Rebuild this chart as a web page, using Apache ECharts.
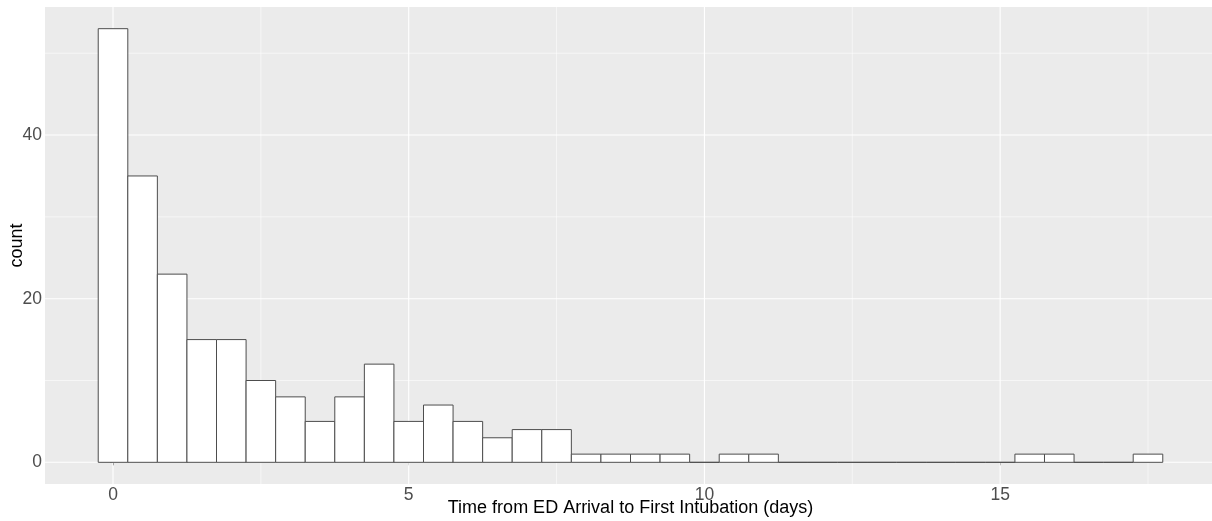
<!DOCTYPE html>
<html>
<head>
<meta charset="utf-8">
<script src="https://cdn.jsdelivr.net/npm/echarts@6/dist/echarts.min.js"></script>
<style>
html,body{margin:0;padding:0;background:#fff;}
#chart{width:1212px;height:521px;}
</style>
</head>
<body>
<div id="chart"></div>
<script>
// Histogram data (bin centers in days, counts), bin width 0.5
const binWidth = 0.5;
const binCenters = [0,0.5,1,1.5,2,2.5,3,3.5,4,4.5,5,5.5,6,6.5,7,7.5,8,8.5,9,9.5,10,10.5,11,11.5,12,12.5,13,13.5,14,14.5,15,15.5,16,16.5,17,17.5];
const counts     = [53,35,23,15,15,10,8,5,8,12,5,7,5,3,4,4,1,1,1,1,0,1,1,0,0,0,0,0,0,0,0,1,1,0,0,1];
const xTicks = [0,5,10,15];
const xMinor = [2.5,7.5,12.5,17.5];
const yTicks = [0,20,40];
const yMinor = [10,30,50];
const xTitle = 'Time from ED Arrival to First Intubation (days)';
const yTitle = 'count';

const FONT = 'Liberation Sans, Arial, sans-serif';
const chart = echarts.init(document.getElementById('chart'), null, {renderer:'canvas'});

function vLines(width){
  return function(params, api){
    const cs = params.coordSys;
    const x = api.coord([api.value(0), 0])[0];
    return {type:'line', shape:{x1:x,y1:cs.y,x2:x,y2:cs.y+cs.height},
      style:{stroke:'#ffffff', lineWidth:width}, silent:true};
  };
}
function hLines(width){
  return function(params, api){
    const cs = params.coordSys;
    const y = api.coord([0, api.value(1)])[1];
    return {type:'line', shape:{x1:cs.x,y1:y,x2:cs.x+cs.width,y2:y},
      style:{stroke:'#ffffff', lineWidth:width}, silent:true};
  };
}

const barData = binCenters.map((c,i)=>[c, counts[i]]);

chart.setOption({
  animation:false,
  backgroundColor:'#ffffff',
  grid:{left:45, top:7, width:1171, height:477, show:true, backgroundColor:'#EBEBEB', borderWidth:0,
        containLabel:false, outerBoundsMode:'none'},
  xAxis:{
    type:'value', min:-1.15, max:18.65,
    axisLine:{show:false},
    splitLine:{show:false},
    axisTick:{show:true, customValues:xTicks, length:3, lineStyle:{color:'#333333', width:1}},
    axisLabel:{customValues:xTicks, color:'#4D4D4D', fontSize:17.5, fontFamily:FONT, margin:2},
    name:xTitle, nameLocation:'middle', nameGap:15, nameMoveOverlap:false,
    nameTextStyle:{color:'#000000', fontSize:18, fontFamily:FONT}
  },
  yAxis:{
    type:'value', min:-2.65, max:55.65,
    axisLine:{show:false},
    splitLine:{show:false},
    axisTick:{show:true, customValues:yTicks, length:3, lineStyle:{color:'#333333', width:1}},
    axisLabel:{customValues:yTicks, color:'#4D4D4D', fontSize:17.5, fontFamily:FONT, margin:3},
    name:yTitle, nameLocation:'middle', nameGap:19, nameRotate:90, nameMoveOverlap:false,
    nameTextStyle:{color:'#000000', fontSize:18, fontFamily:FONT}
  },
  series:[
    {type:'custom', renderItem:vLines(0.55), data:xMinor.map(v=>[v,0]), silent:true, z:1},
    {type:'custom', renderItem:hLines(0.55), data:yMinor.map(v=>[0,v]), silent:true, z:1},
    {type:'custom', renderItem:vLines(1.1), data:xTicks.map(v=>[v,0]), silent:true, z:1},
    {type:'custom', renderItem:hLines(1.1), data:yTicks.map(v=>[0,v]), silent:true, z:1},
    {
      type:'custom', z:2,
      data:barData,
      renderItem:function(params, api){
        const c = api.value(0), n = api.value(1);
        const p0 = api.coord([c - binWidth/2, 0]);
        const p1 = api.coord([c + binWidth/2, n]);
        return {type:'rect',
          shape:{x:p0[0], y:p1[1], width:p1[0]-p0[0], height:p0[1]-p1[1]},
          style:{fill:'#ffffff', stroke:'#4d4d4d', lineWidth:1}};
      }
    }
  ]
});
</script>
</body>
</html>
